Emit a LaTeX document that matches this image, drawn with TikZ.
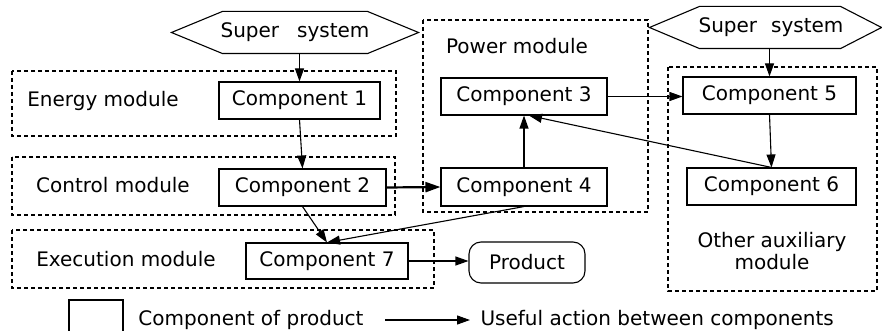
\documentclass[tikz,border=0pt]{standalone}
\usepackage{fontspec}
\setmainfont{DejaVu Sans}
\usetikzlibrary{arrows.meta,calc}
\begin{document}
\begin{tikzpicture}[x=1pt,y=-1pt,
  font=\fontsize{20}{22}\selectfont,
  line width=1.1pt,
  comp/.style={draw,inner sep=0pt,minimum width=#1,minimum height=37pt},
  modbox/.style={draw,dash pattern=on 4pt off 3pt},
  plain/.style={inner sep=0pt},
  act/.style={-{Triangle[length=13pt,width=9pt]}},
  bigact/.style={-{Triangle[length=15pt,width=10pt]},line width=2.2pt}]
\clip (0,0) rectangle (882,331);

% module frames
\draw[modbox] (12,71) rectangle (396,136);
\draw[modbox] (12,157) rectangle (395,215);
\draw[modbox] (12,230) rectangle (434,288);
\draw[modbox] (423,20) rectangle (648,212);
\draw[modbox] (668,67) rectangle (877,291);

% module labels
\node[plain] (lenergy) at (103,101) {Energy module};
\node[plain] (lcontrol) at (113,185) {Control module};
\node[plain] (lexec) at (126,259) {Execution module};
\node[plain] (lpower) at (517,46) {Power module};
\node[plain,align=center] (laux) at (772,251) {Other auxiliary\\module};

% super systems
\node[plain,minimum width=246pt,minimum height=41pt] (ss1) at (295,32.5) {Super\hspace{0.9em}system};
\draw ([xshift=51pt]ss1.north west) -- ([xshift=-51pt]ss1.north east) -- (ss1.east)
  -- ([xshift=-51pt]ss1.south east) -- ([xshift=51pt]ss1.south west) -- (ss1.west) -- cycle;
\node[plain,minimum width=231pt,minimum height=41pt] (ss2) at (765.5,27.5) {};
\node[plain] (ss2t) at (771,27.5) {Super\hspace{0.7em}system};
\draw ([xshift=50pt]ss2.north west) -- ([xshift=-41pt]ss2.north east) -- (ss2.east)
  -- ([xshift=-41pt]ss2.south east) -- ([xshift=50pt]ss2.south west) -- (ss2.west) -- cycle;

% components
\node[comp=161pt] (c1) at (299.5,100.5) {Component 1};
\node[comp=167pt] (c2) at (302.5,187.5) {Component 2};
\node[comp=166pt] (c3) at (524,96.5) {Component 3};
\node[comp=166pt,minimum height=38pt] (c4) at (524,187) {Component 4};
\node[comp=173pt] (c5) at (769.5,95.5) {Component 5};
\node[comp=169pt] (c6) at (771.5,186.5) {Component 6};
\node[comp=162pt,minimum height=36pt] (c7) at (327,261) {Component 7};
\node[draw,rounded corners=12pt,minimum width=116pt,minimum height=41pt,inner sep=0pt] (prod) at (527,262.5) {Product};

% useful actions
\draw[act] (c1.north |- ss1.south) -- (c1.north);
\draw[act] (c1.south) -- (c2.north);
\draw[bigact] (c2.east) -- (c4.west);
\draw[act] (c4.north) -- (c3.south);
\draw[act] (c3.east) -- (c3.east -| c5.west);
\draw[act] (c5.north |- ss2.south) -- (c5.north);
\draw[act] (c5.south) -- (c6.north);
\coordinate (c3in) at ([xshift=5pt]c3.south);
\draw[act] (c6.north) -- (c3in);
\draw[act] (c2.south) -- (c7.north);
\draw[act] (c4.south) -- (c7.north);
\draw[act] (c7.east) -- (c7.east -| prod.west);

% legend
\node[draw,inner sep=0pt,minimum width=54pt,minimum height=40pt] (legbox) at (96,320) {};
\node[plain] (legtxt1) at (251,320) {Component of product};
\coordinate (legA) at (385,320);
\coordinate (legB) at (470,320);
\draw[act] (legA) -- (legB);
\node[plain,anchor=west] (legtxt2) at (480,320) {Useful action between components};
\end{tikzpicture}
\end{document}
